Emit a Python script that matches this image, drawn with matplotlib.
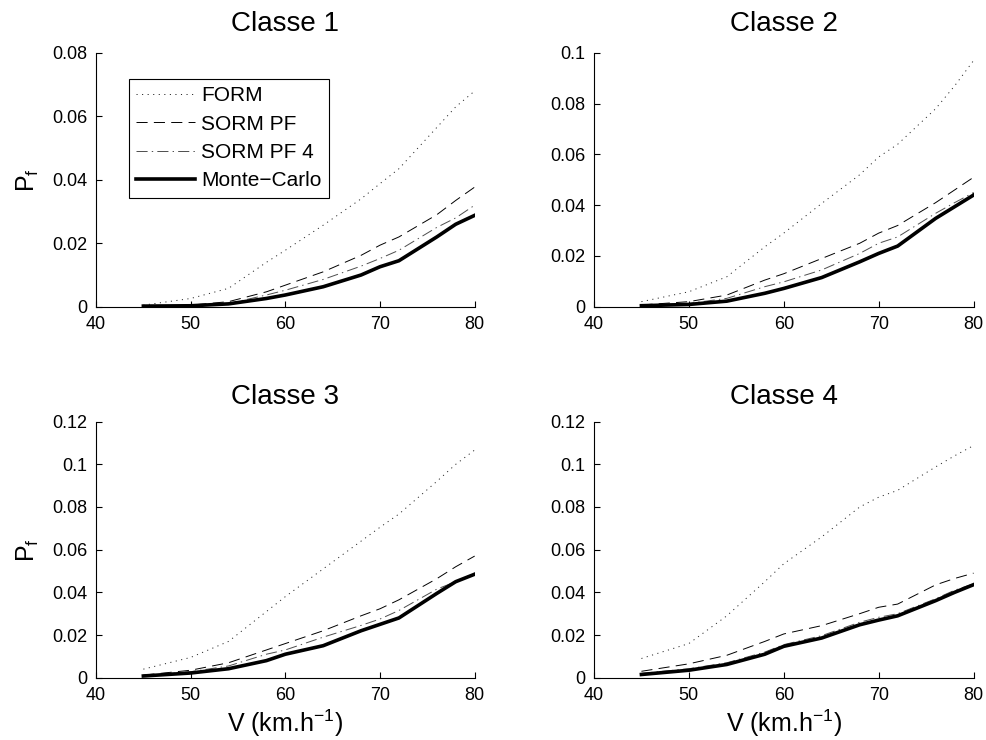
import numpy as np
import matplotlib
matplotlib.use('Agg')
import matplotlib.pyplot as plt

plt.rcParams['font.family'] = ['Liberation Sans', 'DejaVu Sans']
plt.rcParams['lines.scale_dashes'] = False
plt.rcParams['mathtext.fontset'] = 'custom'
plt.rcParams['mathtext.rm'] = 'Liberation Sans'
plt.rcParams['mathtext.it'] = 'Liberation Sans'

# vitesse (km/h)
v = [45, 50, 54, 58, 60, 64, 68, 70, 72, 76, 78, 80]

# Classe 1
form_1 = [0.0005, 0.0026, 0.0058, 0.014, 0.0178, 0.0257, 0.034, 0.0388, 0.0435, 0.0565, 0.063, 0.068]
sorm_1 = [0.0002, 0.0005, 0.0016, 0.0047, 0.0068, 0.011, 0.0162, 0.0194, 0.022, 0.029, 0.0335, 0.0377]
sorm4_1 = [0.0002, 0.0004, 0.0010, 0.0037, 0.0052, 0.0086, 0.0128, 0.0152, 0.0178, 0.025, 0.028, 0.032]
mc_1 = [0.0002, 0.0003, 0.0009, 0.0026, 0.0037, 0.0063, 0.010, 0.0126, 0.0145, 0.022, 0.026, 0.0288]

# Classe 2
form_2 = [0.002, 0.0059, 0.0118, 0.0236, 0.029, 0.0407, 0.052, 0.059, 0.064, 0.078, 0.087, 0.097]
sorm_2 = [0.0007, 0.002, 0.0046, 0.0105, 0.013, 0.019, 0.025, 0.029, 0.032, 0.041, 0.046, 0.051]
sorm4_2 = [0.0005, 0.0013, 0.0033, 0.0079, 0.0098, 0.0145, 0.021, 0.025, 0.0275, 0.0368, 0.041, 0.045]
mc_2 = [0.0004, 0.0009, 0.0022, 0.0053, 0.0072, 0.0115, 0.0177, 0.021, 0.0239, 0.0348, 0.0394, 0.044]

# Classe 3
form_3 = [0.004, 0.0095, 0.017, 0.031, 0.038, 0.051, 0.064, 0.0705, 0.0767, 0.092, 0.100, 0.1067]
sorm_3 = [0.0012, 0.0035, 0.007, 0.013, 0.016, 0.022, 0.029, 0.0323, 0.0365, 0.0464, 0.052, 0.057]
sorm4_3 = [0.001, 0.0028, 0.0055, 0.011, 0.013, 0.019, 0.0245, 0.0275, 0.0315, 0.0415, 0.045, 0.049]
mc_3 = [0.0008, 0.0022, 0.0042, 0.008, 0.011, 0.015, 0.022, 0.025, 0.028, 0.0395, 0.045, 0.0485]

# Classe 4
form_4 = [0.009, 0.016, 0.029, 0.045, 0.0534, 0.066, 0.080, 0.0846, 0.0878, 0.0988, 0.104, 0.1088]
sorm_4 = [0.003, 0.0065, 0.0105, 0.017, 0.0205, 0.0244, 0.030, 0.033, 0.0345, 0.0435, 0.0465, 0.049]
sorm4_4 = [0.002, 0.0042, 0.007, 0.012, 0.0155, 0.0197, 0.026, 0.0283, 0.030, 0.037, 0.041, 0.044]
mc_4 = [0.0015, 0.0035, 0.0062, 0.011, 0.0147, 0.0186, 0.0248, 0.027, 0.029, 0.0361, 0.040, 0.0436]

classes = ['Classe 1', 'Classe 2', 'Classe 3', 'Classe 4']
form = [form_1, form_2, form_3, form_4]
sorm = [sorm_1, sorm_2, sorm_3, sorm_4]
sorm4 = [sorm4_1, sorm4_2, sorm4_3, sorm4_4]
mc = [mc_1, mc_2, mc_3, mc_4]
ymax = [0.08, 0.1, 0.12, 0.12]

fig = plt.figure(figsize=(9.86, 7.40), dpi=100)
positions = [
    [0.0974, 0.5855, 0.384, 0.343],
    [0.6024, 0.5855, 0.385, 0.343],
    [0.0974, 0.0842, 0.384, 0.346],
    [0.6024, 0.0842, 0.385, 0.346],
]

for i in range(4):
    ax = fig.add_axes(positions[i])
    ax.plot(v, form[i], color='0.15', lw=0.7, linestyle=(0, (0.8, 3.2)), label='FORM')
    ax.plot(v, sorm[i], color='black', lw=0.7, linestyle=(0, (8, 4.5)), label='SORM PF')
    ax.plot(v, sorm4[i], color='0.3', lw=0.7, linestyle=(0, (8, 3, 1, 3)), label='SORM PF 4')
    ax.plot(v, mc[i], color='black', lw=2.6, label='Monte\u2212Carlo')

    ax.set_xlim(40, 80)
    ax.set_ylim(0, ymax[i])
    ax.set_xticks([40, 50, 60, 70, 80])
    ticks = np.arange(0, ymax[i] + 1e-9, 0.02)
    ax.set_yticks(ticks)
    ax.set_yticklabels(['0' if t == 0 else ('%g' % round(t, 2)) for t in ticks])
    ax.tick_params(direction='in', labelsize=13, length=4, width=0.8)
    ax.tick_params(axis='x', pad=7)
    ax.tick_params(axis='y', pad=6)
    ax.spines['top'].set_visible(False)
    ax.spines['right'].set_visible(False)
    ax.set_title(classes[i], fontsize=20, pad=16 if i < 2 else 13)

    if i % 2 == 0:
        ax.set_ylabel('P$_\\mathregular{f}$', fontsize=18, labelpad=8)
    if i >= 2:
        ax.set_xlabel('V (km.h$^{\\mathregular{-1}}$)', fontsize=18, labelpad=2)

    if i == 0:
        leg = ax.legend(loc='upper left', bbox_to_anchor=(0.087, 0.897), fontsize=15,
                        fancybox=False, framealpha=1, edgecolor='black',
                        handlelength=2.8, handletextpad=0.3, borderpad=0.35,
                        labelspacing=0.45, borderaxespad=0)
        leg.get_frame().set_linewidth(0.8)

fig.savefig('out.png', dpi=100)
